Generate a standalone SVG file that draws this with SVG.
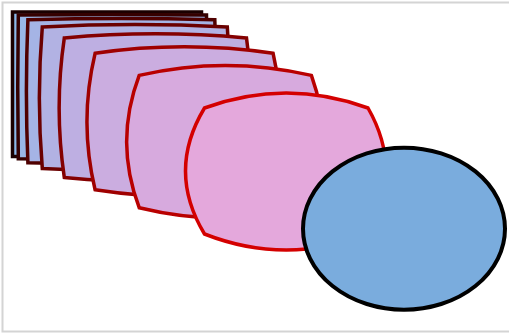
<svg xmlns="http://www.w3.org/2000/svg" width="509" height="333" viewBox="0 0 509 333">
<style>
.m{stroke-width:3.5;stroke-linejoin:miter}
</style>
<rect x="0" y="0" width="509" height="333" fill="#ffffff"/>
<rect x="2.5" y="2.5" width="508" height="329" fill="none" stroke="#d4d4d4" stroke-width="2"/>
<g id="blend-0"><path class="m" fill="#8cb9e9" stroke="#1a0000" d="M12.5 12 Q107 12 201.5 12 Q201.5 84.3 201.5 156.5 Q107 156.5 12.5 156.5 Q12.5 84.3 12.5 12Z"/></g>
<g id="blend-1"><path class="m" fill="#99b7e7" stroke="#350000" d="M18.3 14.9 Q112.4 14 206.5 14.9 Q207.6 86.9 206.5 158.8 Q112.4 159.8 18.3 158.8 Q17.2 86.9 18.3 14.9Z"/></g>
<g id="blend-2"><path class="m" fill="#a5b4e5" stroke="#4f0000" d="M27.9 19.7 Q121.4 17.3 214.8 19.7 Q217.7 91.2 214.8 162.7 Q121.4 165.3 27.9 162.7 Q24.9 91.2 27.9 19.7Z"/></g>
<g id="blend-3"><path class="m" fill="#b2b2e3" stroke="#6a0000" d="M42.3 26.9 Q134.8 22.3 227.3 26.9 Q232.9 97.7 227.3 168.5 Q134.8 173.5 42.3 168.5 Q36.4 97.7 42.3 26.9Z"/></g>
<g id="blend-4"><path class="m" fill="#beafe2" stroke="#840000" d="M64.3 37.9 Q155.4 29.8 246.5 37.9 Q256.2 107.7 246.5 177.4 Q155.4 186 64.3 177.4 Q54 107.7 64.3 37.9Z"/></g>
<g id="blend-5"><path class="m" fill="#cbade0" stroke="#9f0000" d="M95.1 53.3 Q184.1 40.4 273.1 53.3 Q288.6 121.6 273.1 189.8 Q184.1 203.6 95.1 189.8 Q78.8 121.6 95.1 53.3Z"/></g>
<g id="blend-6"><path class="m" fill="#d7aade" stroke="#b90000" d="M139.2 75.4 Q225.3 55.6 311.4 75.4 Q335.2 141.6 311.4 207.7 Q225.3 228.8 139.2 207.7 Q114.1 141.6 139.2 75.4Z"/></g>
<g id="blend-7"><path class="m" fill="#e4a8dc" stroke="#d40000" d="M204.5 108 Q286.3 78 368 108 Q404 171 368 234 Q286.3 266 204.5 234 Q166.5 171 204.5 108Z"/></g>
<g id="ellipse"><ellipse cx="404" cy="228.7" rx="101" ry="81" fill="#7aacdd" stroke="#000000" stroke-width="4"/></g>
</svg>
